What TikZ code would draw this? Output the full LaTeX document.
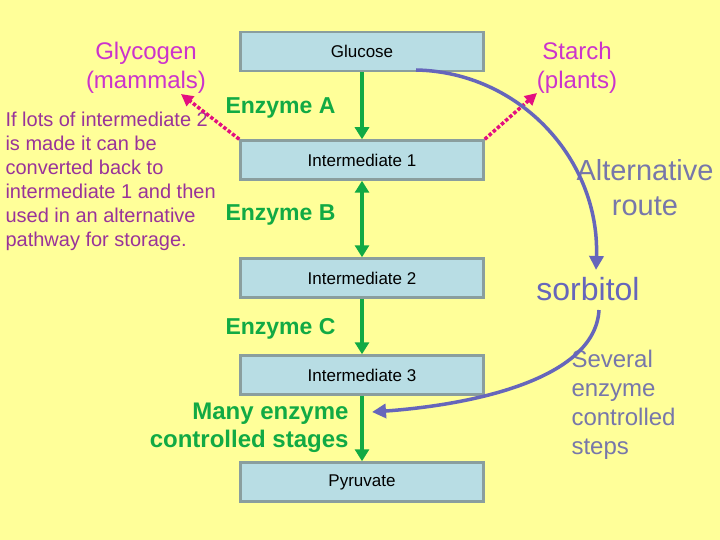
\documentclass[tikz,border=0pt]{standalone}
\usepackage{fontspec}
\setmainfont{Liberation Sans}
\usetikzlibrary{arrows.meta}
\definecolor{bg}{HTML}{FFFF99}
\definecolor{boxfill}{HTML}{B8DDE4}
\definecolor{boxline}{HTML}{8A9E9E}
\definecolor{grn}{HTML}{11AA44}
\definecolor{mag}{HTML}{CC33CC}
\definecolor{dmag}{HTML}{993399}
\definecolor{pur}{HTML}{6666BB}
\definecolor{gpur}{HTML}{7777AA}
\begin{document}
\begin{tikzpicture}[x=1pt,y=-1pt,
  stepbox/.style={draw=boxline,line width=2.5pt,fill=boxfill,minimum width=243pt,minimum height=39pt,font=\fontsize{17}{19}\selectfont},
  garrow/.style={draw=grn,line width=3.5pt,-{Triangle[width=14pt,length=12pt]}},
  garrow2/.style={draw=grn,line width=3.5pt,{Triangle[width=14pt,length=12pt]}-{Triangle[width=14pt,length=12pt]}},
  parrow/.style={draw=pur,line width=3.5pt,-{Triangle[width=14pt,length=14pt]}},
  darrow/.style={draw=magenta!80!purple,line width=3.5pt,dotted,-{Triangle[width=12pt,length=12pt]}},
  etext/.style={text=grn,font=\bfseries\fontsize{23}{26}\selectfont}]
\fill[bg] (0,0) rectangle (720,540);
\node[stepbox] (glu) at (362,51.5) {Glucose};
\node[stepbox] (i1) at (362,160) {Intermediate 1};
\node[stepbox] (i2) at (362,278) {Intermediate 2};
\node[stepbox] (i3) at (362,375) {Intermediate 3};
\node[stepbox] (pyr) at (362,482) {Pyruvate};
\draw[garrow] (glu.south) -- (i1.north);
\draw[garrow2] (i1.south) -- (i2.north);
\draw[garrow] (i2.south) -- (i3.north);
\draw[garrow] (i3.south) -- (pyr.north);
\node[etext,anchor=west] (ea) at (222,108) {Enzyme A};
\node[etext,anchor=west] (eb) at (222,215) {Enzyme B};
\node[etext,anchor=west] (ec) at (222,329) {Enzyme C};
\node[text=grn,font=\bfseries\fontsize{24}{28}\selectfont,align=right,anchor=east] (many) at (352,428) {Many enzyme\\controlled stages};
\node[text=mag,font=\fontsize{24}{29}\selectfont,align=center] (gly) at (146,68) {Glycogen\\(mammals)};
\node[text=mag,font=\fontsize{24}{29}\selectfont,align=center] (sta) at (577,68) {Starch\\(plants)};
\node[text=dmag,font=\fontsize{20}{24}\selectfont,align=left,anchor=north west] (para) at (2,108) {If lots of intermediate 2\\is made it can be\\converted back to\\intermediate 1 and then\\used in an alternative\\pathway for storage.};
\node[text=gpur,font=\fontsize{29}{35}\selectfont,align=center] (alt) at (645,188) {Alternative\\route};
\node[text=pur,font=\fontsize{32}{36}\selectfont] (sor) at (588,289) {sorbitol};
\node[text=gpur,font=\fontsize{24}{29}\selectfont,align=left,anchor=north west] (sev) at (568,347) {Several\\enzyme\\controlled\\steps};
\draw[darrow] (i1.north west) -- (181,94);
\draw[darrow] (i1.north east) -- (537,93);
\coordinate (gs) at (416,70);
\draw[parrow] (gs) .. controls (520,72) and (600,160) .. (596,270);
\coordinate (sb) at (599,310);
\draw[parrow] (sb) .. controls (595,380) and (470,405) .. (372,412);
\end{tikzpicture}
\end{document}
